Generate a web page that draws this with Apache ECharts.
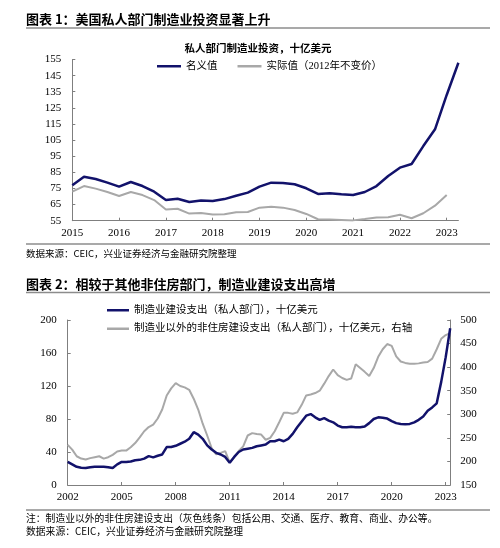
<!DOCTYPE html>
<html lang="zh">
<head>
    <meta charset="UTF-8">
    <title>制造业投资</title>
    <script src="https://cdn.jsdelivr.net/npm/echarts@6/dist/echarts.min.js"></script>
    <style>
        html, body { margin: 0; padding: 0; background: #fff; }
        #main { width: 500px; height: 548px; }
    </style>
</head>
<body>
<div id="main"></div>

<script>
    // 图表1：季度，2015Q1 - 2023Q2，十亿美元
    const invYears = [2015, 2016, 2017, 2018, 2019, 2020, 2021, 2022, 2023];
    const invNominal = [77, 82.3, 80.9, 78.6, 76.1, 79, 76.5, 73, 67.8, 68.6, 66.6, 67.6,
        67.2, 68.4, 70.5, 72.4, 76.1, 78.6, 78.4, 77.6, 75.1, 71.6, 72, 71.4,
        70.9, 72.8, 76.5, 82.7, 87.9, 90.2, 101.3, 111.7, 133, 153];
    const invReal = [73, 76.5, 74.9, 72.8, 70.3, 72.8, 70.9, 67.8, 62, 62.4, 59.4, 59.8,
        58.8, 59, 60.2, 60.4, 63.1, 63.7, 63.1, 61.6, 59.2, 55.9, 55.7, 55.5,
        55.2, 56, 57, 57.2, 58.7, 56.5, 59.6, 64.3, 71];

    // 图表2：季度，2002Q1 - 2023Q2，十亿美元
    const conYears = [2002, 2003, 2004, 2005, 2006, 2007, 2008, 2009, 2010, 2011, 2012,
        2013, 2014, 2015, 2016, 2017, 2018, 2019, 2020, 2021, 2022, 2023];
    const conMfg = [28, 25, 22, 21, 20.5, 21.5, 22, 22, 22, 21.5,
        20.5, 25, 28, 28, 28.5, 30, 30.5, 32, 35, 33.5,
        35.5, 37, 46, 46, 47.5, 50, 52.5, 56, 64, 61,
        56, 48, 43, 39, 37, 34, 27, 34, 40, 43,
        44, 45, 47, 48, 49, 53, 53, 55, 53, 56,
        62, 70, 77, 84, 86, 82, 79, 81, 78, 76,
        72, 70, 70, 70.5, 70, 70, 71, 75, 80, 82,
        81.5, 80.5, 77.5, 75, 74, 73.5, 74, 76, 79, 83,
        90, 94, 99, 125, 155, 190];
    const conOther = [235, 225, 211, 206, 204, 207, 209, 211, 206, 209,
        214, 221, 223, 223, 230, 239, 251, 264, 273, 278,
        291, 310, 340, 355, 366, 360, 357, 352, 333, 310,
        280, 255, 228, 215, 218, 222, 198, 209, 222, 232,
        255, 260, 258, 257, 246, 250, 264, 283, 303, 303,
        301, 304, 320, 340, 342, 345, 350, 365, 381, 395,
        383, 377, 373, 376, 406, 398, 390, 381, 398, 422,
        438, 449, 445, 423, 412, 409, 407, 407, 408, 410,
        411, 418, 438, 460, 468, 472];

    function quarters(years, lastQ) {
        const out = [];
        years.forEach(function (y, i) {
            const n = i === years.length - 1 ? lastQ : 4;
            for (let q = 1; q <= n; q++) out.push(y + 'Q' + q);
        });
        return out;
    }
    const invCats = quarters(invYears, 2);
    const conCats = quarters(conYears, 2);

    const NAVY = '#12126b';
    const GREY = '#a8a8a8';
    const AXIS = '#7f7f7f';
    const FONT = "'Liberation Serif', 'Noto Sans CJK SC', serif";
    const CJK = "'Noto Sans CJK SC', 'Liberation Serif', sans-serif";

    const axisLabel = { color: '#000', fontFamily: FONT, fontSize: 11 };

    function text(x, y, str, size, weight) {
        return {
            type: 'text', x: x, y: y, silent: true,
            style: {
                text: str, fill: '#000', textVerticalAlign: 'middle',
                font: (weight || 'normal') + ' ' + size + 'px ' + CJK
            }
        };
    }
    function rule(y) {
        return {
            type: 'line', silent: true,
            shape: { x1: 26, y1: y, x2: 490, y2: y },
            style: { stroke: '#8c8c8c', lineWidth: 1.5 }
        };
    }

    const chart = echarts.init(document.getElementById('main'));
    chart.setOption({
        animation: false,
        backgroundColor: '#fff',
        graphic: { elements: [
            text(26, 19, '图表 1：美国私人部门制造业投资显著上升', 13, 'bold'),
            rule(28),
            {
                type: 'text', x: 258, y: 48, silent: true,
                style: {
                    text: '私人部门制造业投资，十亿美元', fill: '#000', textAlign: 'center',
                    textVerticalAlign: 'middle', font: 'bold 10.5px ' + CJK
                }
            },
            rule(244),
            text(26, 253, '数据来源：CEIC，兴业证券经济与金融研究院整理', 9.5),
            text(26, 284, '图表 2：相较于其他非住房部门，制造业建设支出高增', 13, 'bold'),
            rule(292.5),
            rule(510),
            text(26, 518, '注：制造业以外的非住房建设支出（灰色线条）包括公用、交通、医疗、教育、商业、办公等。', 9.8),
            text(26, 531, '数据来源：CEIC，兴业证券经济与金融研究院整理', 9.8)
        ] },
        legend: [{
            data: ['名义值', '实际值（2012年不变价）'],
            left: 157, top: 61, padding: 0,
            icon: 'rect', itemWidth: 24, itemHeight: 2.5, itemGap: 20,
            textStyle: { fontFamily: FONT, fontSize: 10.5, color: '#000' }
        }, {
            data: ['制造业建设支出（私人部门），十亿美元', '制造业以外的非住房建设支出（私人部门），十亿美元，右轴'],
            orient: 'vertical',
            left: 107, top: 305, padding: 0,
            icon: 'rect', itemWidth: 22, itemHeight: 2.5, itemGap: 8,
            textStyle: { fontFamily: FONT, fontSize: 10.5, color: '#000' }
        }],
        grid: [
            { left: 72.3, right: 41.6, top: 59.5, height: 161.2 },
            { left: 67.7, right: 49.8, top: 320, height: 165 }
        ],
        xAxis: [{
            type: 'category', gridIndex: 0, data: invCats, boundaryGap: false,
            axisLine: { lineStyle: { color: AXIS } },
            axisTick: { inside: true, length: 3, interval: 3, lineStyle: { color: AXIS } },
            axisLabel: Object.assign({ interval: 3, margin: 7, formatter: function (v) { return v.slice(0, 4); } }, axisLabel),
            splitLine: { show: false }
        }, {
            type: 'category', gridIndex: 1, data: conCats, boundaryGap: false,
            axisLine: { lineStyle: { color: AXIS } },
            axisTick: { inside: true, length: 3, interval: 11, lineStyle: { color: AXIS } },
            axisLabel: Object.assign({ interval: 11, margin: 7, formatter: function (v) { return v.slice(0, 4); } }, axisLabel),
            splitLine: { show: false }
        }],
        yAxis: [{
            type: 'value', gridIndex: 0, min: 55, max: 155, interval: 10,
            axisLine: { show: true, lineStyle: { color: AXIS } },
            axisTick: { show: true, inside: true, length: 3, lineStyle: { color: AXIS } },
            axisLabel: Object.assign({ margin: 11 }, axisLabel),
            splitLine: { show: false }
        }, {
            type: 'value', gridIndex: 1, min: 0, max: 200, interval: 40,
            axisLine: { show: true, lineStyle: { color: AXIS } },
            axisTick: { show: true, inside: true, length: 3, lineStyle: { color: AXIS } },
            axisLabel: Object.assign({ margin: 11 }, axisLabel),
            splitLine: { show: false }
        }, {
            type: 'value', gridIndex: 1, position: 'right', min: 150, max: 500, interval: 50,
            axisLine: { show: true, lineStyle: { color: AXIS } },
            axisTick: { show: true, inside: true, length: 3, lineStyle: { color: AXIS } },
            axisLabel: Object.assign({ margin: 10 }, axisLabel),
            splitLine: { show: false }
        }],
        series: [{
            name: '名义值', type: 'line', xAxisIndex: 0, yAxisIndex: 0,
            data: invNominal, showSymbol: false, z: 3,
            lineStyle: { color: NAVY, width: 2.5 }, itemStyle: { color: NAVY }
        }, {
            name: '实际值（2012年不变价）', type: 'line', xAxisIndex: 0, yAxisIndex: 0,
            data: invReal, showSymbol: false, z: 2,
            lineStyle: { color: GREY, width: 2 }, itemStyle: { color: GREY }
        }, {
            name: '制造业以外的非住房建设支出（私人部门），十亿美元，右轴', type: 'line',
            xAxisIndex: 1, yAxisIndex: 2,
            data: conOther, showSymbol: false, z: 2,
            lineStyle: { color: GREY, width: 2 }, itemStyle: { color: GREY }
        }, {
            name: '制造业建设支出（私人部门），十亿美元', type: 'line',
            xAxisIndex: 1, yAxisIndex: 1,
            data: conMfg, showSymbol: false, z: 3,
            lineStyle: { color: NAVY, width: 2.5 }, itemStyle: { color: NAVY }
        }]
    });
</script>
</body>
</html>
